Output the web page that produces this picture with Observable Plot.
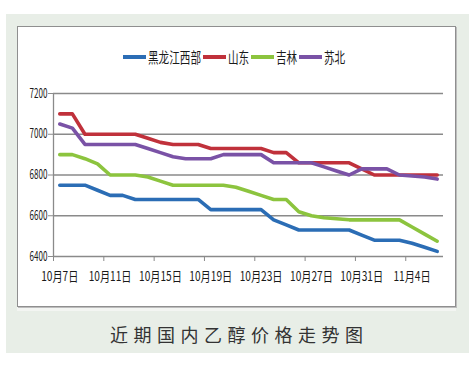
<!DOCTYPE html>
<html><head><meta charset="utf-8">
<script src="https://cdn.jsdelivr.net/npm/d3@7"></script>
<script src="https://cdn.jsdelivr.net/npm/@observablehq/plot@0.6"></script>
<style>
body{margin:0;width:475px;height:373px;position:relative;background:#fff;overflow:hidden;font-family:"Noto Sans CJK SC",sans-serif}
#bg{position:absolute;left:6px;top:14px;width:463px;height:339px;background:#e8eee7}
#panel{position:absolute;left:17px;top:26px;width:437px;height:279px;background:#fff;border:1px solid #8f8f8f;box-shadow:1px 1px 0 #bdbdbd, 0 4px 0 #f3f5f2}
#chart{position:absolute;left:0;top:0}
#legend{position:absolute;left:0;top:0;width:475px;height:0}
.sw{position:absolute;height:4px;top:55px;width:23px}
.lt{position:absolute;top:47px;font-size:15px;line-height:20px;color:#1a1a1a;transform-origin:0 50%;white-space:nowrap}
</style></head>
<body>
<div id="bg"></div><div id="panel"></div><div id="chart"></div><div id="legend"></div>
<script>
const dates = ["10月7日","10月8日","10月9日","10月10日","10月11日","10月12日","10月13日","10月14日","10月15日","10月16日","10月17日","10月18日","10月19日","10月20日","10月21日","10月22日","10月23日","10月24日","10月25日","10月26日","10月27日","10月28日","10月29日","10月30日","10月31日","11月1日","11月2日","11月3日","11月4日","11月5日","11月6日"];
const tickLabels = ["10月7日","10月11日","10月15日","10月19日","10月23日","10月27日","10月31日","11月4日"];
const yTicks = [6400, 6600, 6800, 7000, 7200];
const series = ["黑龙江西部","山东","吉林","苏北"];
const heilongjiang = [6750,6750,6750,6725,6700,6700,6680,6680,6680,6680,6680,6680,6630,6630,6630,6630,6630,6580,6555,6530,6530,6530,6530,6530,6505,6480,6480,6480,6465,6445,6425];
const shandong = [7100,7100,7000,7000,7000,7000,7000,6980,6960,6950,6950,6950,6930,6930,6930,6930,6930,6910,6910,6860,6860,6860,6860,6860,6830,6800,6800,6800,6800,6800,6800];
const jilin = [6900,6900,6880,6855,6800,6800,6800,6790,6770,6750,6750,6750,6750,6750,6740,6720,6700,6680,6680,6620,6600,6590,6585,6580,6580,6580,6580,6580,6545,6510,6475];
const subei = [7050,7030,6950,6950,6950,6950,6950,6930,6910,6890,6880,6880,6880,6900,6900,6900,6900,6860,6860,6860,6860,6840,6820,6800,6830,6830,6830,6800,6795,6790,6780];
const colors = ["#2b6db5","#c0313b","#8cc43e","#7a52a6"];

const valuesBySeries = [heilongjiang, shandong, jilin, subei];
const data = series.flatMap((s, k) => valuesBySeries[k].map((v, i) => ({i, v, s, date: dates[i]})));
const labelIdx = tickLabels.map(t => dates.indexOf(t));
const boundaryIdx = labelIdx.map(i => i - 0.5);

const chart = Plot.plot({
  width: 475, height: 373,
  marginLeft: 53, marginRight: 32, marginTop: 93, marginBottom: 117,
  x: {domain: [-0.5, dates.length - 0.5]},
  y: {domain: [6400, 7200]},
  color: {domain: series, range: colors},
  style: {background: "transparent", fontFamily: "'Noto Sans CJK SC', sans-serif", fontSize: "13px", color: "#1a1a1a", overflow: "visible"},
  marks: [
    Plot.gridY(yTicks, {stroke: "#8a8a8a", strokeOpacity: 1, strokeWidth: 1.3}),
    Plot.ruleX([-0.5], {y1: 6400, y2: 7200, stroke: "#8a8a8a", strokeWidth: 1.3}),
    Plot.axisY({ticks: yTicks, tickSize: 5, tickPadding: 1, tickFormat: d => String(d), stroke: "#8a8a8a", label: null}),
    Plot.axisX({ticks: boundaryIdx, tickSize: 5, tickFormat: () => "", stroke: "#8a8a8a", label: null}),
    Plot.axisX({ticks: labelIdx, tickSize: 0, tickPadding: 15, tickFormat: i => dates[i], label: null}),
    Plot.line(data, {x: "i", y: "v", z: "s", stroke: "s", strokeWidth: 3.6, strokeLinejoin: "round"})
  ]
});
document.getElementById("chart").appendChild(chart);

const svg = d3.select(chart);
svg.selectAll('g[aria-label="y-axis tick label"] text').each(function(){
  const w = this.getComputedTextLength();
  if (w > 0) { this.setAttribute("textLength", w * 0.62); this.setAttribute("lengthAdjust", "spacingAndGlyphs"); }
});
svg.selectAll('g[aria-label="x-axis tick label"] text').each(function(){
  const w = this.getComputedTextLength();
  if (w > 0) { this.setAttribute("textLength", w * 0.78); this.setAttribute("lengthAdjust", "spacingAndGlyphs"); }
});

// legend (HTML)
const legend = d3.select("#legend");
let cx = 123;
series.forEach((s, k) => {
  legend.append("div").attr("class", "sw").style("left", cx + "px").style("background", colors[k]);
  cx += 25;
  const tw = s.length * 10.6;
  const span = legend.append("span").attr("class", "lt").style("left", cx + "px").text(s);
  const nat = span.node().getBoundingClientRect().width;
  span.style("transform", `scaleX(${tw / nat})`);
  cx += tw + 2;
});

// caption
svg.append("text").attr("x", 236.5).attr("y", 333.5).attr("text-anchor", "middle")
  .attr("dominant-baseline", "central").attr("font-size", 18).attr("fill", "#333")
  .attr("font-family", "'Noto Sans CJK SC', sans-serif")
  .attr("textLength", 253).attr("lengthAdjust", "spacing").text("近期国内乙醇价格走势图");
</script>
</body></html>
